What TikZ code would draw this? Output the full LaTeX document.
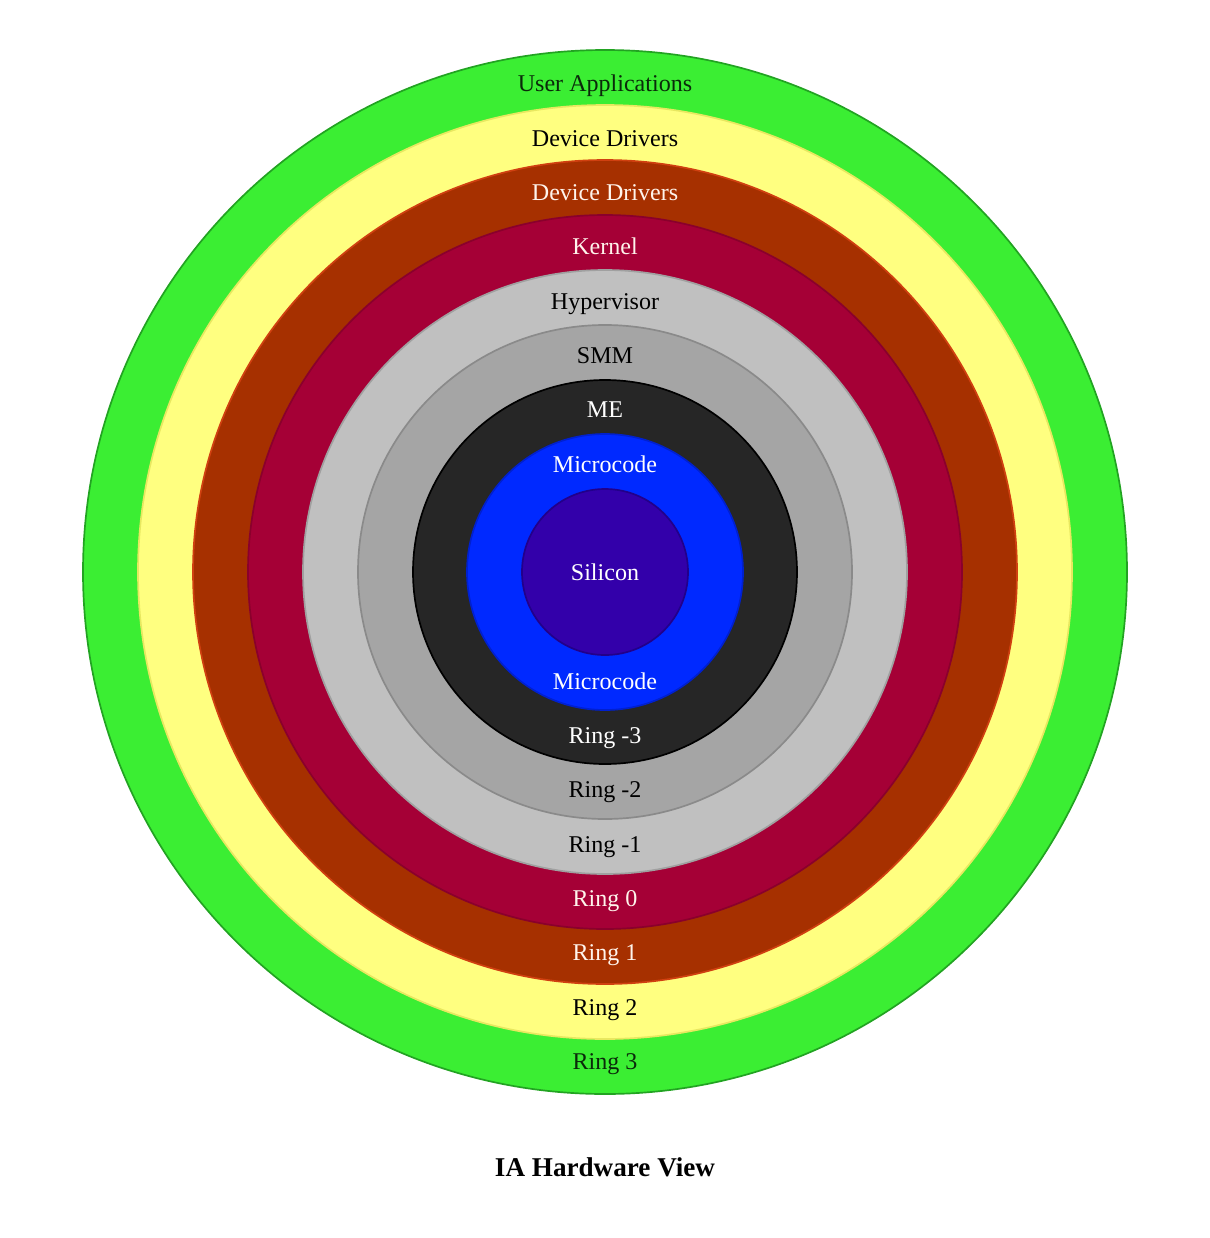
\documentclass[tikz,border=0pt]{standalone}
\usepackage{fontspec}
\setmainfont{Liberation Serif}
\usepackage{tikz}
\usepackage{xcolor}

\definecolor{ringgreen}{HTML}{3BEE33}
\definecolor{ringgreenline}{HTML}{22A322}
\definecolor{ringyellow}{HTML}{FFFF80}
\definecolor{ringyellowline}{HTML}{E8E860}
\definecolor{ringbrown}{HTML}{A63000}
\definecolor{ringbrownline}{HTML}{D04010}
\definecolor{ringred}{HTML}{A50036}
\definecolor{ringredline}{HTML}{8A002C}
\definecolor{ringlight}{HTML}{C0C0C0}
\definecolor{ringlightline}{HTML}{A0A0A0}
\definecolor{ringmid}{HTML}{A5A5A5}
\definecolor{ringmidline}{HTML}{8A8A8A}
\definecolor{ringdark}{HTML}{262626}
\definecolor{ringblue}{HTML}{0029FF}
\definecolor{ringblueline}{HTML}{0020D0}
\definecolor{ringpurple}{HTML}{3300AA}
\definecolor{ringpurpleline}{HTML}{22008A}
\definecolor{textgreen}{HTML}{0A2A0A}
\definecolor{textlight}{HTML}{FFF4EC}

\begin{document}
\begin{tikzpicture}[x=0.025cm, y=-0.025cm,
    lbl/.style={font=\fontsize{17.1}{20}\selectfont, inner sep=0pt, anchor=base},
    band/.style={line width=1.2pt}]
    \useasboundingbox (0,0) rectangle (1210,1238);

    % Rings, outside in
    \draw[band, fill=ringgreen, draw=ringgreenline] (605,572) circle (522);
    \draw[band, fill=ringyellow, draw=ringyellowline] (605,572) circle (467);
    \draw[band, fill=ringbrown, draw=ringbrownline] (605,572) circle (412);
    \draw[band, fill=ringred, draw=ringredline] (605,572) circle (357);
    \draw[band, fill=ringlight, draw=ringlightline] (605,572) circle (302);
    \draw[band, fill=ringmid, draw=ringmidline] (605,572) circle (247);
    \draw[band, fill=ringdark, draw=black] (605,572) circle (192);
    \draw[band, fill=ringblue, draw=ringblueline] (605,572) circle (138);
    \draw[band, fill=ringpurple, draw=ringpurpleline] (605,572) circle (83);

    % Names of the layers (baselines)
    \node[lbl, textgreen] (userapps) at (605,91) {User Applications};
    \node[lbl, black] (drivers2) at (605,146) {Device Drivers};
    \node[lbl, textlight] (drivers1) at (605,200) {Device Drivers};
    \node[lbl, textlight] (kernel) at (605,254) {Kernel};
    \node[lbl, black] (hypervisor) at (605,309) {Hypervisor};
    \node[lbl, black] (smm) at (605,363) {SMM};
    \node[lbl, white] (me) at (605,417) {ME};
    \node[lbl, white] (ucodetop) at (605,472) {Microcode};
    \node[lbl, white] (silicon) at (605,580) {Silicon};

    % Ring numbers
    \node[lbl, white] (ucodebot) at (605,689) {Microcode};
    \node[lbl, white] (ringm3) at (605,743) {Ring -3};
    \node[lbl, black] (ringm2) at (605,797) {Ring -2};
    \node[lbl, black] (ringm1) at (605,852) {Ring -1};
    \node[lbl, textlight] (ring0) at (605,906) {Ring 0};
    \node[lbl, textlight] (ring1) at (605,960) {Ring 1};
    \node[lbl, black] (ring2) at (605,1015) {Ring 2};
    \node[lbl, textgreen] (ring3) at (605,1069) {Ring 3};

    % Caption
    \node[font=\fontsize{19.3}{22}\selectfont\bfseries, inner sep=0pt, anchor=base] (caption) at (605,1176) {IA Hardware View};
\end{tikzpicture}
\end{document}
